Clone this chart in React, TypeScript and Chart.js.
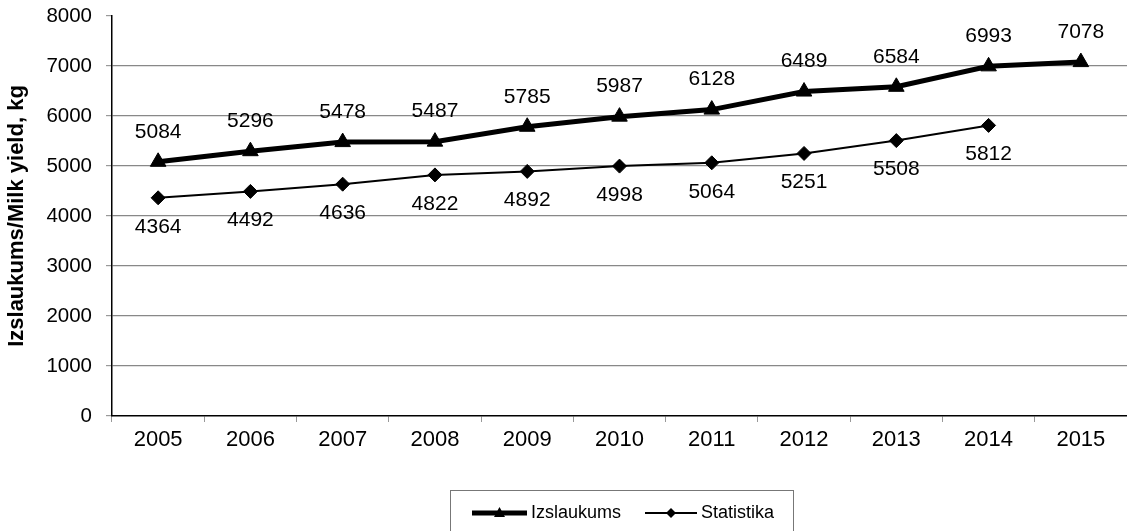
import React, { useEffect, useRef } from "react";
import { Chart, registerables } from "chart.js";

Chart.register(...registerables);

const years = ["2005", "2006", "2007", "2008", "2009", "2010", "2011", "2012", "2013", "2014", "2015"];
const izslaukums = [5084, 5296, 5478, 5487, 5785, 5987, 6128, 6489, 6584, 6993, 7078];
const statistika: (number | null)[] = [4364, 4492, 4636, 4822, 4892, 4998, 5064, 5251, 5508, 5812, null];
const seriesNames = ["Izslaukums", "Statistika"];
const yTitle = "Izslaukums/Milk yield, kg";

const FONT = "'Liberation Sans', Arial, sans-serif";

const labelPlugin = {
  id: "valueLabels",
  afterDatasetsDraw(chart: any) {
    const ctx = chart.ctx;
    ctx.save();
    ctx.font = `21px ${FONT}`;
    ctx.fillStyle = "#000";
    ctx.textAlign = "center";
    ctx.textBaseline = "middle";
    chart.data.datasets.forEach((ds: any, di: number) => {
      const meta = chart.getDatasetMeta(di);
      meta.data.forEach((pt: any, i: number) => {
        const v = ds.data[i];
        if (v == null) return;
        const dy = di === 0 ? -30 : 29;
        ctx.fillText(String(v), pt.x, pt.y + dy);
      });
    });
    ctx.restore();
  },
};

const legendPlugin = {
  id: "boxLegend",
  afterDraw(chart: any) {
    const ctx = chart.ctx;
    ctx.save();
    const bx = 450, by = 490, bw = 343, bh = 50;
    ctx.strokeStyle = "#777";
    ctx.lineWidth = 1;
    ctx.strokeRect(bx + 0.5, by + 0.5, bw, bh);
    const cy = 513;
    ctx.font = `18px ${FONT}`;
    ctx.fillStyle = "#000";
    ctx.textBaseline = "middle";
    ctx.textAlign = "left";
    ctx.strokeStyle = "#000";
    ctx.lineWidth = 5;
    ctx.beginPath();
    ctx.moveTo(472, cy);
    ctx.lineTo(527, cy);
    ctx.stroke();
    ctx.beginPath();
    ctx.moveTo(499.5, cy - 6);
    ctx.lineTo(505, cy + 4);
    ctx.lineTo(494, cy + 4);
    ctx.closePath();
    ctx.fill();
    ctx.fillText(seriesNames[0], 531, cy);
    ctx.lineWidth = 2;
    ctx.beginPath();
    ctx.moveTo(645, cy);
    ctx.lineTo(697, cy);
    ctx.stroke();
    ctx.beginPath();
    ctx.moveTo(671, cy - 5);
    ctx.lineTo(676, cy);
    ctx.lineTo(671, cy + 5);
    ctx.lineTo(666, cy);
    ctx.closePath();
    ctx.fill();
    ctx.fillText(seriesNames[1], 701, cy);
    ctx.restore();
  },
};

export default function App() {
  const ref = useRef<HTMLCanvasElement>(null);
  useEffect(() => {
    const chart = new Chart(ref.current!, {
      type: "line",
      data: {
        labels: years,
        datasets: [
          {
            label: seriesNames[0],
            data: izslaukums,
            borderColor: "#000",
            backgroundColor: "#000",
            borderWidth: 5,
            pointStyle: "triangle",
            pointRadius: 9,
            pointBorderWidth: 1,
            tension: 0,
          },
          {
            label: seriesNames[1],
            data: statistika,
            borderColor: "#000",
            backgroundColor: "#000",
            borderWidth: 2,
            pointStyle: "rectRot",
            pointRadius: 7,
            pointBorderWidth: 1,
            tension: 0,
          },
        ],
      },
      options: {
        animation: false,
        responsive: false,
        devicePixelRatio: 1,
        layout: { autoPadding: false, padding: { top: 16, left: 4, right: 0, bottom: 0 } },
        plugins: { legend: { display: false }, tooltip: { enabled: false } },
        scales: {
          x: {
            offset: true,
            grid: {
              offset: true,
              drawOnChartArea: false,
              drawTicks: true,
              tickLength: 6,
              color: "#999",
            },
            border: { color: "#000", width: 1.5 },
            ticks: { font: { family: FONT, size: 22 }, color: "#000", padding: 5, maxRotation: 0 },
            afterFit: (s: any) => {
              s.height = 115;
              s.paddingLeft = 0;
              s.paddingRight = 0;
            },
          },
          y: {
            min: 0,
            max: 8000,
            ticks: {
              stepSize: 1000,
              font: { family: FONT, size: 20.5 },
              color: "#000",
              padding: 14,
              callback: (v: any) => String(v),
            },
            grid: {
              tickLength: 6,
              tickColor: "#999",
              color: (c: any) =>
                c.tick && (c.tick.value === 8000 || c.tick.value === 0) ? "rgba(0,0,0,0)" : "#888",
              lineWidth: 1.2,
            },
            border: { color: "#000", width: 1.5 },
            title: {
              display: true,
              text: yTitle,
              font: { family: FONT, size: 22, weight: "bold" },
              color: "#000",
              padding: 0,
            },
            afterFit: (s: any) => {
              s.width = 108;
              s.paddingTop = 0;
              s.paddingBottom = 0;
            },
          },
        },
      },
      plugins: [labelPlugin, legendPlugin],
    });
    return () => chart.destroy();
  }, []);
  return (
    <div style={{ position: "fixed", left: 0, top: 0, width: 1127, height: 531 }}>
      <canvas ref={ref} width={1127} height={531} style={{ display: "block" }} />
    </div>
  );
}
